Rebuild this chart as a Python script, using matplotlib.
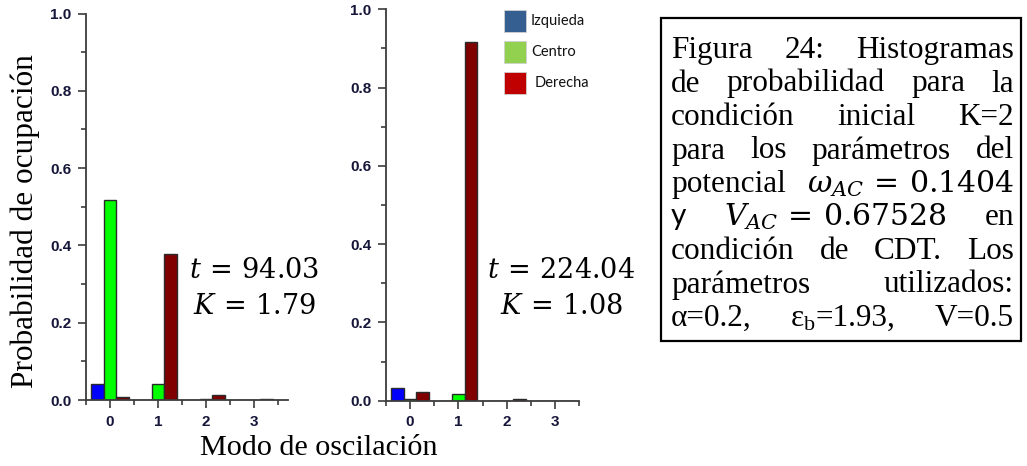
import matplotlib
matplotlib.use("Agg")
import matplotlib.pyplot as plt
from matplotlib.patches import Rectangle
from matplotlib.ticker import MultipleLocator, FormatStrFormatter
import numpy as np

W, H = 1027, 466

# ---- data -------------------------------------------------------------
modes = [0, 1, 2, 3]
series_names = ["Izquieda", "Centro", "Derecha"]
bar_colors = ["#0000FF", "#00FF00", "#800000"]
legend_colors = ["#365F91", "#92D050", "#C00000"]

# t = 94.03, K = 1.79
left_izq = [0.041, 0.0, 0.0, 0.0]
left_cen = [0.517, 0.041, 0.002, 0.0]
left_der = [0.008, 0.377, 0.012, 0.002]

# t = 224.04, K = 1.08
right_izq = [0.033, 0.0, 0.0, 0.0]
right_cen = [0.004, 0.016, 0.0, 0.0]
right_der = [0.022, 0.917, 0.004, 0.0]

left_note = [r"$t\,=\,94.03$", r"$K\,=\,1.79$"]
right_note = [r"$t\,=\,224.04$", r"$K\,=\,1.08$"]

y_ticks = [0.0, 0.2, 0.4, 0.6, 0.8, 1.0]

# ---- helpers ----------------------------------------------------------
def fx(x):
    return x / W


def fy(y):
    return 1.0 - y / H


fig = plt.figure(figsize=(W / 100, H / 100), dpi=100)
fig.patch.set_facecolor("white")

SPINE = "#3c3c3c"
TICKLAB = "#16163a"
SERIF = "Liberation Serif"


def panel(x0, x1, ybot, ytop, xmax, values):
    ax = fig.add_axes([fx(x0), fy(ybot), fx(x1) - fx(x0), (ybot - ytop) / H])
    width = 0.26
    x = np.array(modes, dtype=float)
    for k, (vals, col) in enumerate(zip(values, bar_colors)):
        ax.bar(x + (k - 1) * width, vals, width=width, color=col,
               edgecolor="#2a2a2a", linewidth=1.0, zorder=3)
    ax.set_xlim(-0.5, xmax)
    ax.set_ylim(0, 1.0)
    for s in ("top", "right"):
        ax.spines[s].set_visible(False)
    for s in ("left", "bottom"):
        ax.spines[s].set_color(SPINE)
        ax.spines[s].set_linewidth(1.3)
        ax.spines[s].set_zorder(4)
    ax.set_xticks(modes)
    ax.set_xticks(np.arange(-0.5, xmax + 0.01, 1.0), minor=True)
    ax.set_yticks(y_ticks)
    ax.yaxis.set_minor_locator(MultipleLocator(0.1))
    ax.yaxis.set_major_formatter(FormatStrFormatter("%.1f"))
    ax.tick_params(which="major", direction="out", length=6, width=1.2,
                   color=SPINE, pad=4.5, labelsize=11, labelcolor=TICKLAB)
    ax.tick_params(which="minor", direction="out", length=3.5, width=1.2,
                   color=SPINE)
    for lab in ax.get_xticklabels() + ax.get_yticklabels():
        lab.set_fontweight("bold")
        lab.set_fontfamily("Liberation Sans")
    ax.set_facecolor("none")
    return ax


ax1 = panel(86, 287.6, 400, 13.5, 3.7, [left_izq, left_cen, left_der])
ax2 = panel(385.9, 579.2, 400.7, 9.3, 3.5, [right_izq, right_cen, right_der])

# axis titles
fig.text(fx(25), fy(221), "Probabilidad de ocupación", rotation=90,
         ha="center", va="center", fontsize=22.5, family=SERIF)
fig.text(fx(318.5), fy(455), "Modo de oscilación", ha="center",
         va="baseline", fontsize=21.7, family=SERIF)

# time / K annotations
for (cx, lines) in ((254, left_note), (561, right_note)):
    for i, s in enumerate(lines):
        fig.text(fx(cx), fy(278 + 36.5 * i), s, ha="center", va="baseline",
                 fontsize=19.5, math_fontfamily="dejavuserif")

# legend
for i, (name, col) in enumerate(zip(series_names, legend_colors)):
    top = 10 + 31 * i
    fig.add_artist(Rectangle((fx(504), fy(top + 22)), 22 / W, 22 / H,
                             transform=fig.transFigure, facecolor=col,
                             edgecolor="#d0d0d0", linewidth=0.6))
    xoff = 535 if name == "Derecha" else 531
    fig.text(fx(xoff), fy(top + 11), name, ha="left", va="center",
             fontsize=10.5, family="Lato", color="#111111")

# ---- caption box with justified text -----------------------------------
BOX_L, BOX_T, BOX_R, BOX_B = 661, 18, 1021, 341
fig.add_artist(Rectangle((fx(BOX_L), fy(BOX_B)), (BOX_R - BOX_L) / W,
                         (BOX_B - BOX_T) / H, transform=fig.transFigure,
                         facecolor="none", edgecolor="black", linewidth=1.6))

CAP = 22.5
st_rm = dict(fontsize=CAP, family=SERIF)
st_math = dict(fontsize=21.5, math_fontfamily="dejavuserif")
st_sans = dict(fontsize=21.5, family="Lato")
st_sub = dict(fontsize=16, family=SERIF)

caption = [
    [[("Figura", st_rm, 0)], [("24:", st_rm, 0)], [("Histogramas", st_rm, 0)]],
    [[("de", st_rm, 0)], [("probabilidad", st_rm, 0)], [("para", st_rm, 0)],
     [("la", st_rm, 0)]],
    [[("condición", st_rm, 0)], [("inicial", st_rm, 0)], [("K=2", st_rm, 0)]],
    [[("para", st_rm, 0)], [("los", st_rm, 0)], [("parámetros", st_rm, 0)],
     [("del", st_rm, 0)]],
    [[("potencial", st_rm, 0)],
     [(r"$\omega_{AC}\,=\,0.1404$", st_math, 0)]],
    [[("y", st_sans, 0)], [(r"$V_{AC}\,=\,0.67528$", st_math, 0)],
     [("en", st_rm, 0)]],
    [[("condición", st_rm, 0)], [("de", st_rm, 0)], [("CDT.", st_rm, 0)],
     [("Los", st_rm, 0)]],
    [[("parámetros", st_rm, 0)], [("utilizados:", st_rm, 0)]],
    [[("α=0.2,", st_rm, 0)],
     [("ε", st_rm, 0), ("b", st_sub, 4), ("=1.93,", st_rm, 0)],
     [("V=0.5", st_rm, 0)]],
]

TXT_L, TXT_R = 671, 1014
BASE0, STEP = 58, 33.5

fig.canvas.draw()
renderer = fig.canvas.get_renderer()

for li, words in enumerate(caption):
    base = BASE0 + STEP * li
    placed = []
    widths = []
    for word in words:
        segs = []
        wsum = 0.0
        for (s, style, dy) in word:
            t = fig.text(0, 0, s, ha="left", va="baseline", **style)
            ext = t.get_window_extent(renderer)
            segs.append((t, wsum, dy))
            wsum += ext.width
        placed.append(segs)
        widths.append(wsum)
    gap = (TXT_R - TXT_L - sum(widths)) / max(len(words) - 1, 1)
    x = TXT_L
    for segs, w in zip(placed, widths):
        for (t, off, dy) in segs:
            t.set_position((fx(x + off), fy(base + dy)))
        x += w + gap

fig.savefig("out.png", dpi=100, facecolor="white")
